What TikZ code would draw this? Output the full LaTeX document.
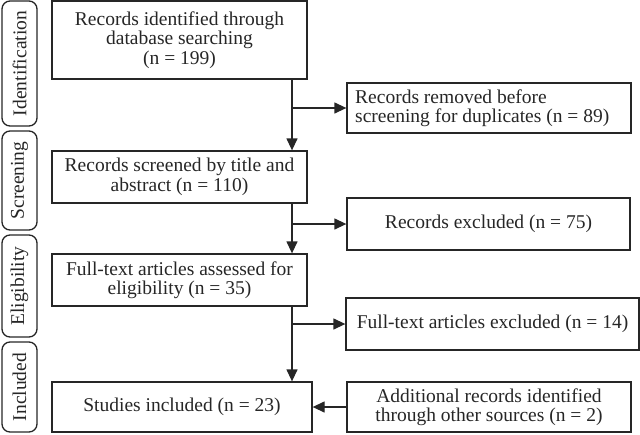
\documentclass[tikz,border=0pt]{standalone}
\usepackage{fontspec}
\setmainfont{Liberation Serif}
\usetikzlibrary{arrows.meta}
\definecolor{ink}{HTML}{262626}
\begin{document}
\begin{tikzpicture}[x=1pt,y=-1pt,
  every node/.style={font=\fontsize{19.5}{19.5}\selectfont, text=ink},
  box/.style={draw=ink, line width=1.3pt, rectangle, inner sep=0pt, align=center},
  phase/.style={draw=ink, line width=1.3pt, rectangle, rounded corners=8pt, inner sep=0pt, minimum width=35pt, rotate=90},
  arr/.style={draw=ink, line width=1.3pt, -{Triangle[length=12pt,width=11pt]}},
  ln/.style={draw=ink, line width=1.3pt}]
\useasboundingbox (0,0) rectangle (640,434);
% phase labels
\node[phase, minimum height=35pt, minimum width=125pt] (pid) at (19.5,63.5) {Identification};
\node[phase, minimum height=35pt, minimum width=99pt] (psc) at (19.5,180.5) {Screening};
\node[phase, minimum height=35pt, minimum width=102pt] (pel) at (19.5,286) {Eligibility};
\node[phase, minimum height=35pt, minimum width=90pt] (pin) at (19.5,387) {Included};
% main boxes
\node[box, minimum width=255pt, minimum height=78pt] (b1) at (179.5,40) {Records identified through\\database searching\\(n = 199)};
\node[box, minimum width=255pt, minimum height=52pt] (b2) at (179.5,177) {Records screened by title and\\abstract (n = 110)};
\node[box, minimum width=255pt, minimum height=52pt] (b3) at (179.5,280) {Full-text articles assessed for\\eligibility (n = 35)};
\node[box, minimum width=260pt, minimum height=50pt] (b4) at (182,407) {Studies included (n = 23)};
% side boxes
\node[box, minimum width=284pt, minimum height=50pt] (r1) at (489,108) {};
\node[anchor=west, align=left, inner sep=0pt] (r1t) at (355,108) {Records removed before\\screening for duplicates (n = 89)};
\node[box, minimum width=283pt, minimum height=52pt] (r2) at (488.5,224) {Records excluded (n = 75)};
\node[box, minimum width=293pt, minimum height=52pt] (r3) at (492.5,324) {Full-text articles excluded (n = 14)};
\node[box, minimum width=284pt, minimum height=50pt] (r4) at (489,407) {Additional records identified\\through other sources (n = 2)};
% connectors
\coordinate (v) at (292,0);
\draw[arr] (b1.south -| v) -- (b2.north -| v);
\draw[arr] (b2.south -| v) -- (b3.north -| v);
\draw[arr] (b3.south -| v) -- (b4.north -| v);
\draw[arr] (v |- r1) -- (r1.west);
\draw[arr] (v |- r2) -- (r2.west);
\draw[arr] (v |- r3) -- (r3.west);
\draw[arr] (r4.west) -- (b4.east);
\end{tikzpicture}
\end{document}
